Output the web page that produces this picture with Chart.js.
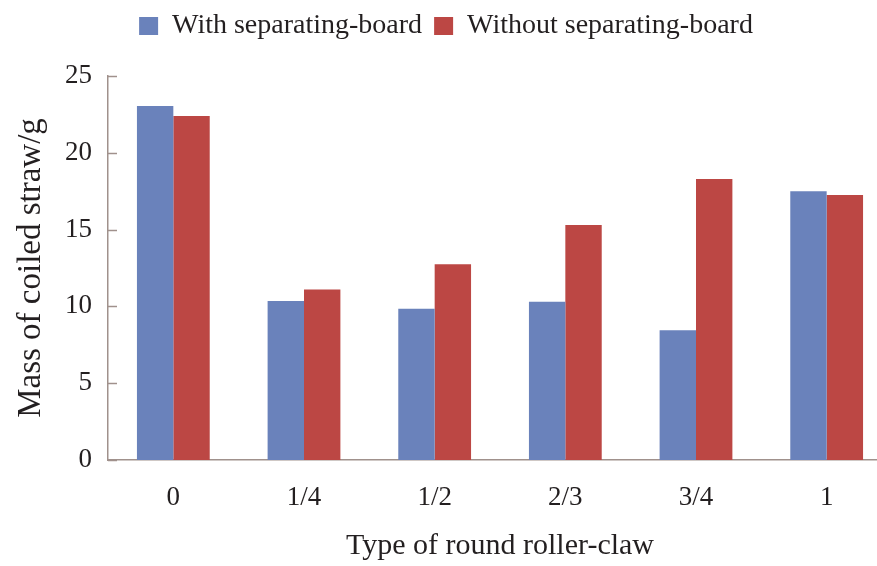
<!DOCTYPE html>
<html>
<head>
<meta charset="utf-8">
<script src="https://cdn.jsdelivr.net/npm/chart.js@4/dist/chart.umd.min.js"></script>
<style>
html,body{margin:0;padding:0;background:#fff;overflow:hidden;width:877px;height:566px;}
canvas{display:block;}
</style>
</head>
<body>
<canvas id="c" width="900" height="566"></canvas>
<script>
const categories = ['0', '1/4', '1/2', '2/3', '3/4', '1'];
const withBoard = [23.05, 10.35, 9.85, 10.3, 8.45, 17.5];
const withoutBoard = [22.4, 11.1, 12.75, 15.3, 18.3, 17.25];
const yTicks = [0, 5, 10, 15, 20, 25];
const seriesNames = ['With separating-board', 'Without separating-board'];

const FONT = '"Liberation Serif", "Times New Roman", serif';
const TXT = '#231f20';
const AXIS = '#a0918c';

const innerTicks = {
  id: 'innerTicks',
  beforeLayout(chart) {
    const lg = chart.legend;
    if (lg && !lg._wrapped) {
      const f = lg.fit;
      lg.fit = function () { f.call(this); this.height = 76; };
      lg._wrapped = true;
    }
  },
  afterDraw(chart) {
    const y = chart.scales.y;
    const ctx = chart.ctx;
    ctx.save();
    ctx.strokeStyle = AXIS;
    ctx.lineWidth = 1.5;
    const x0 = chart.chartArea.left;
    yTicks.forEach(v => {
      const py = Math.round(y.getPixelForValue(v)) + 0.5;
      ctx.beginPath();
      ctx.moveTo(x0, py);
      ctx.lineTo(x0 + 9, py);
      ctx.stroke();
    });
    ctx.restore();
  }
};

new Chart(document.getElementById('c'), {
  type: 'bar',
  data: {
    labels: categories,
    datasets: [
      { label: seriesNames[0], data: withBoard, backgroundColor: '#6a82bb', borderWidth: 0 },
      { label: seriesNames[1], data: withoutBoard, backgroundColor: '#bc4744', borderWidth: 0 }
    ]
  },
  options: {
    responsive: false,
    animation: false,
    devicePixelRatio: 1,
    categoryPercentage: 0.557,
    barPercentage: 1.0,
    layout: { padding: { left: 0, right: 8, top: 0, bottom: 0 } },
    plugins: {
      legend: {
        position: 'top',
        labels: {
          color: TXT,
          font: { family: FONT, size: 28 },
          boxWidth: 19,
          boxHeight: 18,
          padding: 12
        }
      },
      tooltip: { enabled: false }
    },
    scales: {
      x: {
        grid: { display: false, drawTicks: false },
        border: { display: true, color: AXIS, width: 1.5 },
        ticks: { color: TXT, font: { family: FONT, size: 27 }, padding: 22, maxRotation: 0 },
        title: {
          display: true, text: 'Type of round roller-claw', color: TXT,
          font: { family: FONT, size: 30 }, padding: { top: 8, bottom: 2 }
        },
        afterFit(s) { s.height = 106; }
      },
      y: {
        min: 0, max: 25,
        afterBuildTicks(s) { s.ticks = yTicks.map(v => ({ value: v })); },
        grid: { display: false, drawTicks: false },
        border: { display: true, color: AXIS, width: 1.5 },
        ticks: { color: TXT, font: { family: FONT, size: 27 }, padding: 16 },
        title: {
          display: true, text: 'Mass of coiled straw/g', color: TXT,
          font: { family: FONT, size: 33 }, padding: { top: 12, bottom: 8 }
        },
        afterFit(s) { s.width = 108; }
      }
    }
  },
  plugins: [innerTicks]
});
</script>
</body>
</html>
